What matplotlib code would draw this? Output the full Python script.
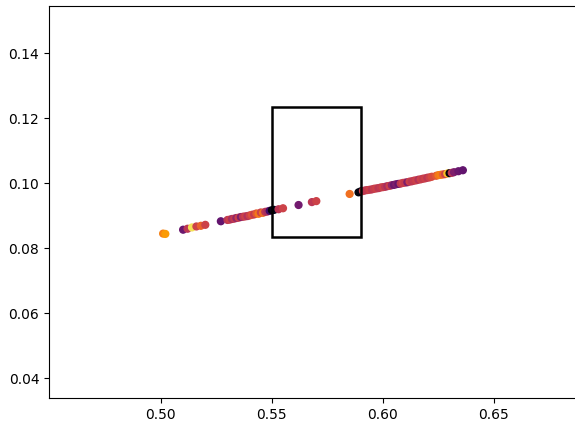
import matplotlib
matplotlib.use("Agg")
import matplotlib.pyplot as plt
from matplotlib.patches import Rectangle

# scatter points along the line (x, y, colour value on inferno)
xs = [0.501, 0.502, 0.510, 0.512, 0.514, 0.516, 0.518, 0.520, 0.527,
      0.530, 0.531, 0.532, 0.533, 0.534, 0.535, 0.536, 0.537, 0.538, 0.539,
      0.540, 0.541, 0.542, 0.543, 0.544, 0.545, 0.546, 0.547, 0.548,
      0.549, 0.550, 0.551,
      0.553, 0.555, 0.562, 0.568, 0.570, 0.585, 0.589, 0.590,
      0.591, 0.592, 0.593, 0.594, 0.595, 0.596, 0.597, 0.598, 0.599, 0.600,
      0.601, 0.602, 0.603, 0.604, 0.605, 0.606, 0.607, 0.608, 0.609, 0.610,
      0.611, 0.612, 0.613, 0.614, 0.615, 0.616, 0.617, 0.618, 0.619, 0.620,
      0.621, 0.622, 0.624, 0.625, 0.626, 0.627, 0.628, 0.629, 0.630, 0.631,
      0.632, 0.634, 0.636]
ys = [0.0845, 0.0844, 0.0857, 0.0860, 0.0864, 0.0867, 0.0869, 0.0872, 0.0883,
      0.0887, 0.0888, 0.0890, 0.0891, 0.0893, 0.0894, 0.0896, 0.0897, 0.0898, 0.0899,
      0.0901, 0.0903, 0.0904, 0.0907, 0.0906, 0.0910, 0.0909, 0.0912, 0.0913,
      0.0915, 0.0917, 0.0918,
      0.0920, 0.0923, 0.0933, 0.0942, 0.0945, 0.0967, 0.0972, 0.0975,
      0.0976, 0.0978, 0.0979, 0.0980, 0.0981, 0.0983, 0.0984, 0.0985, 0.0987, 0.0988,
      0.0989, 0.0991, 0.0992, 0.0994, 0.0995, 0.0997, 0.0998, 0.0999, 0.1001, 0.1002,
      0.1003, 0.1005, 0.1006, 0.1008, 0.1009, 0.1011, 0.1012, 0.1014, 0.1015, 0.1017,
      0.1018, 0.1020, 0.1023, 0.1025, 0.1026, 0.1027, 0.1028, 0.1030, 0.1031, 0.1032,
      0.1034, 0.1037, 0.1040]
cs = [0.72, 0.78, 0.30, 0.50, 0.92, 0.55, 0.65, 0.55, 0.28,
      0.50, 0.55, 0.45, 0.52, 0.40, 0.55, 0.35, 0.50, 0.55, 0.48,
      0.55, 0.60, 0.52, 0.62, 0.70, 0.55, 0.68, 0.50, 0.45,
      0.20, 0.02, 0.05,
      0.50, 0.55, 0.32, 0.50, 0.55, 0.68, 0.02, 0.03,
      0.55, 0.50, 0.52, 0.55, 0.50, 0.53, 0.55, 0.50, 0.52, 0.55,
      0.50, 0.45, 0.55, 0.40, 0.30, 0.35, 0.28, 0.50, 0.55, 0.52,
      0.35, 0.55, 0.50, 0.52, 0.55, 0.48, 0.55, 0.52, 0.55, 0.50,
      0.55, 0.58, 0.62, 0.70, 0.72, 0.65, 0.55, 0.85, 0.02, 0.50,
      0.35, 0.30, 0.28]

# box drawn over the line
box_x, box_y = 0.55, 0.0834
box_w, box_h = 0.04, 0.04

fig = plt.figure(figsize=(5.75, 4.24), dpi=100)
ax = fig.add_axes([0.0852, 0.0613, 0.9148, 0.9234])

ax.scatter(xs, ys, c=cs, cmap="inferno", vmin=0, vmax=1, s=24, zorder=2)
ax.add_patch(Rectangle((box_x, box_y), box_w, box_h, fill=False,
                       edgecolor="black", linewidth=1.8, zorder=3))

ax.set_xlim(0.4496, 0.6865)
ax.set_ylim(0.0339, 0.1544)
ax.set_xticks([0.50, 0.55, 0.60, 0.65])
ax.set_yticks([0.04, 0.06, 0.08, 0.10, 0.12, 0.14])
ax.spines["right"].set_visible(False)

fig.savefig("out.png", dpi=100)
